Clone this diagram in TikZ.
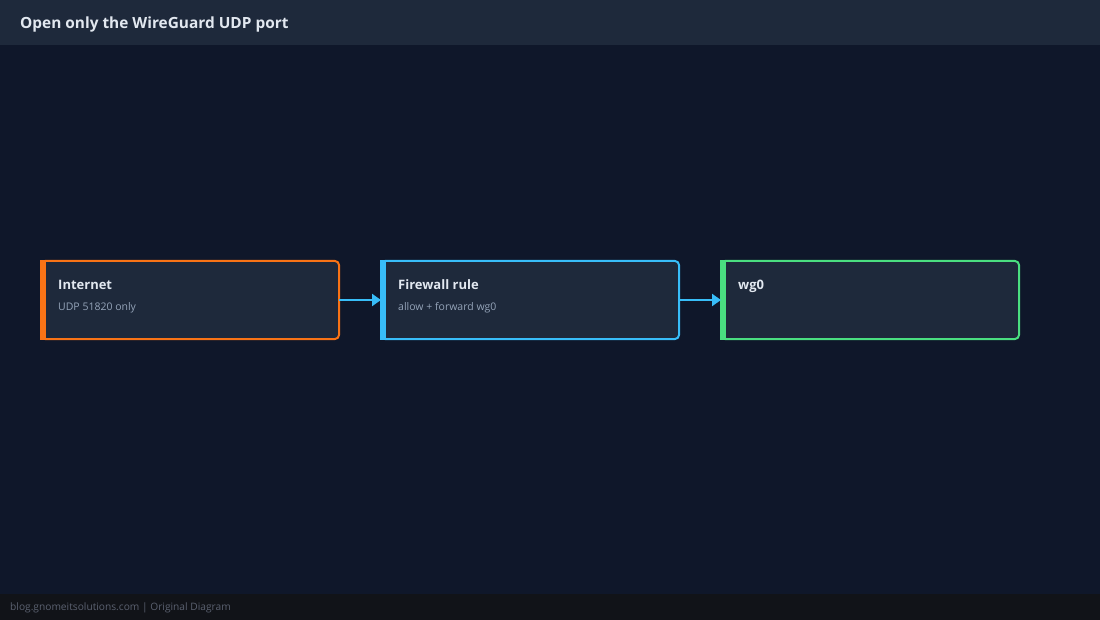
\documentclass[tikz,border=0pt]{standalone}
\usepackage{fontspec}
\setmainfont{Open Sans}
\usepackage{tikz}
\usetikzlibrary{arrows.meta}
\definecolor{bgpage}{HTML}{0F172A}
\definecolor{bghead}{HTML}{1E293B}
\definecolor{bgfoot}{HTML}{111318}
\definecolor{boxfill}{HTML}{1E293B}
\definecolor{txtmain}{HTML}{E2E8F0}
\definecolor{txtsub}{HTML}{94A3B8}
\definecolor{txtfoot}{HTML}{5B6170}
\definecolor{cinet}{HTML}{F97316}
\definecolor{cfw}{HTML}{38BDF8}
\definecolor{cwg}{HTML}{4ADE80}
\tikzset{
 >={Triangle[length=9pt,width=12pt,fill=cfw]},
 stagebox/.style={shape=rectangle,draw=#1,fill=boxfill,line width=2pt,
   rounded corners=4pt,minimum width=298pt,minimum height=78pt,
   inner sep=0pt,outer sep=0pt},
 stagetitle/.style={anchor=base west,inner sep=0pt,text=txtmain,
   font=\fontsize{13}{15}\selectfont\bfseries},
 stagesub/.style={anchor=base west,inner sep=0pt,text=txtsub,
   font=\fontsize{10.5}{12}\selectfont},
 flow/.style={->,draw=cfw,line width=2.2pt}
}
\begin{document}
\begin{tikzpicture}[x=1pt,y=-1pt]
\fill[bgpage] (0,0) rectangle (1100,620);
\fill[bghead] (0,0) rectangle (1100,45);
\fill[bgfoot] (0,594) rectangle (1100,620);
\useasboundingbox (0,0) rectangle (1100,620);

\path (20,29) node[name=title,anchor=base west,inner sep=0pt,text=txtmain,
  font=\fontsize{15.4}{18}\selectfont\bfseries] {Open only the WireGuard UDP port};

\path (190,300) node[name=inet,stagebox=cinet] {};
\path (530,300) node[name=fw,stagebox=cfw] {};
\path (870,300) node[name=wg,stagebox=cwg] {};

% left bars
\fill[cinet] ([xshift=-1pt,yshift=1pt]inet.north west) rectangle ([xshift=5pt,yshift=-1pt]inet.south west);
\fill[cfw] ([xshift=-1pt,yshift=1pt]fw.north west) rectangle ([xshift=5pt,yshift=-1pt]fw.south west);
\fill[cwg] ([xshift=-1pt,yshift=1pt]wg.north west) rectangle ([xshift=5pt,yshift=-1pt]wg.south west);

\path (58,290) node[name=inettitle,stagetitle] {Internet};
\path (58,310) node[name=inetsub,stagesub] {UDP 51820 only};
\path (398,290) node[name=fwtitle,stagetitle] {Firewall rule};
\path (398,310) node[name=fwsub,stagesub] {allow + forward wg0};
\path (738,290) node[name=wgtitle,stagetitle] {wg0};

\draw[flow] (inet) edge (fw);
\draw[flow] (fw) edge (wg);

\path (10,610) node[name=foot,anchor=base west,inner sep=0pt,text=txtfoot,
  font=\fontsize{10.2}{12}\selectfont] {blog.gnomeitsolutions.com | Original Diagram};
\end{tikzpicture}
\end{document}
